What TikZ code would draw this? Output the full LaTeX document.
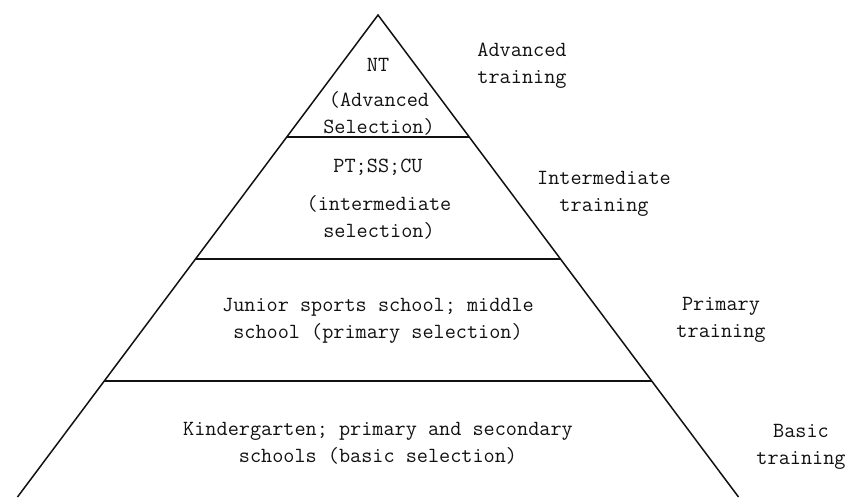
\documentclass[tikz,border=0pt]{standalone}
\usepackage{tikz}
\definecolor{blackmain}{HTML}{111111}
\tikzset{every node/.append style={font=\ttfamily\fontsize{12.3}{15.3}\selectfont,
  text=blackmain,align=center}}

\begin{document}
\begin{tikzpicture}[x=0.02cm,y=-0.02cm]
  \useasboundingbox (0,0) rectangle (848,497);
  % apex at (378,15); each side moves out .748 per unit dropped
  \coordinate (A) at (378,15);
  \coordinate (L) at (17.5,497);
  \coordinate (R) at (738.5,497);
  \draw[blackmain,line width=.85pt] (L)--(A)--(R);
  \foreach \y in {137,259,381}
    \draw[blackmain,line width=.85pt] ({378-.748*(\y-15)},\y)--({378+.748*(\y-15)},\y);
  % levels
  \node (nt) at (378,65) {NT};
  \node (ntsel) at (379,113.5) {(Advanced\\Selection)};
  \node (pt) at (378,167) {PT;SS;CU};
  \node (ptsel) at (379,217.5) {(intermediate\\selection)};
  \node (jss) at (378,321) {Junior sports school; middle\\school (primary selection)};
  \node (kg) at (378,443.5) {Kindergarten; primary and secondary\\schools (basic selection)};
  % training stages
  \node (adv) at (522,65.5) {Advanced\\training};
  \node (int) at (604,193.5) {Intermediate\\training};
  \node (pri) at (721,319.5) {Primary\\training};
  \node (bas) at (801,446.5) {Basic\\training};
\end{tikzpicture}
\end{document}
